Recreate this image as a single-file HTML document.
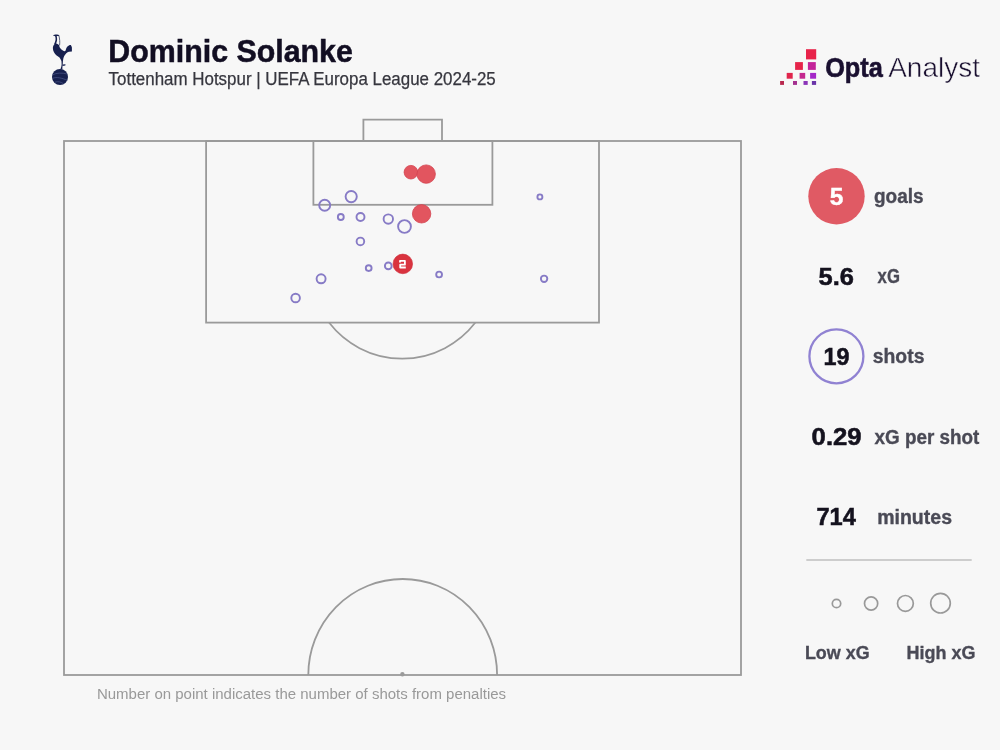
<!DOCTYPE html>
<html><head><meta charset="utf-8"><title>Dominic Solanke shot map</title>
<style>
html,body{margin:0;padding:0;background:#f7f7f7;}
body{width:1000px;height:750px;overflow:hidden;position:relative;font-family:"Liberation Sans",sans-serif;}
svg{position:absolute;left:0;top:0;will-change:transform;}
</style></head>
<body>
<svg width="1000" height="750" viewBox="0 0 1000 750" font-family="Liberation Sans, sans-serif">
  <!-- Spurs crest -->
  <g id="crest" fill="#17204f">
    <path d="M52.9 35.5 C53.8 34.8 55.5 34.5 57 34.6 C58 34.7 58.8 34.9 59.2 35.3 L58.8 36.2 C58 35.9 57.2 35.9 56.7 36.3 C57 37.5 57.2 38.8 57.1 40 C56.9 41.6 56.4 42.8 55.8 44 L54 44.2 C54.8 42.8 55.3 41.4 55.5 40 C55.7 38.6 55.5 37.2 55.1 36.3 C54.4 35.9 53.6 35.8 52.9 35.5 Z"/>
    <path d="M55.6 43.2 C54.2 43.8 53 45.5 52.9 47.6 C52.8 49.5 53.4 52 55.1 53.9 C56 54.9 57.2 55.8 58.1 56.6 C59.2 57.3 60 58 60.3 58.8 C61 59.8 61.4 60.6 61.5 61.6 L61.6 64.4 C61.5 65.6 61.3 66.6 61 67.4 L60.3 69.5 L62.3 69.5 C62.4 68.6 62.4 68 62.4 67.4 L62.7 64.4 L62.9 61.8 C63 60.5 63.1 59.8 63.3 58.8 C63.7 57.4 64 56.6 64.4 55.8 C65 54.8 65.6 53.8 66.3 53.2 C67.2 52.5 68 52 68.9 51.7 L71.9 51.4 L71.9 47.6 C71.7 46.6 71.4 45.7 70.8 45 C70 45 69.4 45.1 68.9 45.4 C68 45.9 67.4 46.3 67 46.9 C66.4 47.8 66.1 48.6 65.9 49.5 C65.6 50.4 65.3 51.2 64.8 51.3 C64 51.3 63.5 51 62.9 50.6 C61.8 49.9 61 49.2 60.3 48.3 C59.5 47.3 59.3 46.2 59.2 45.3 C58 44.2 56.8 43.3 55.6 43.2 Z"/>
    <path d="M62.6 64.6 L65.5 64.3 L65.3 65.4 L62.5 66 Z"/>
    <circle cx="60" cy="77" r="8"/>
  </g>
  <path d="M58.9 35.4 C59.3 37 59.6 39 59.7 40.5 C59.8 42 59.8 43.5 59.6 45.3" fill="none" stroke="#454c6c" stroke-width="0.85"/>
  <g stroke="#5f6c9e" stroke-width="0.7" fill="none" opacity="0.75">
    <path d="M52.6 74.8 C56.5 72.8 62 72.6 67.2 74"/>
    <path d="M53 78.2 C56.5 76.8 61.5 77.8 67.6 80.4"/>
    <path d="M55 82.2 C58 81.2 61 81.8 63.6 83.8"/>
  </g>

  <!-- Title -->
  <text x="108.3" y="61.9" font-size="31" font-weight="bold" fill="#120e22" stroke="#120e22" stroke-width="0.5" textLength="244.6" lengthAdjust="spacingAndGlyphs">Dominic Solanke</text>
  <text x="108.6" y="84.5" font-size="17.5" fill="#36363e" stroke="#36363e" stroke-width="0.25" textLength="387.2" lengthAdjust="spacingAndGlyphs">Tottenham Hotspur | UEFA Europa League 2024-25</text>

  <!-- Opta logo -->
  <g id="opta">
    <rect x="806" y="49.2" width="10.2" height="10.2" fill="#e8234a"/>
    <rect x="795.1" y="62.1" width="7.8" height="7.8" fill="#e6244a"/>
    <rect x="807.9" y="62.1" width="7.9" height="7.8" fill="#c4249a"/>
    <rect x="786.7" y="72.9" width="6" height="5.8" fill="#e0244c"/>
    <rect x="799.6" y="72.9" width="5.6" height="5.8" fill="#c4288e"/>
    <rect x="810.1" y="72.9" width="6" height="5.8" fill="#a428c8"/>
    <rect x="780.1" y="81" width="3.9" height="3.9" fill="#b8284e"/>
    <rect x="793" y="81" width="4" height="3.9" fill="#a43090"/>
    <rect x="803.5" y="81" width="4.2" height="3.9" fill="#8a34b8"/>
    <rect x="811.9" y="81" width="4.2" height="3.9" fill="#6a34a8"/>
  </g>
  <text x="825.2" y="77.3" font-size="27.5" font-weight="bold" fill="#1a1030" stroke="#1a1030" stroke-width="0.6" textLength="57.6" lengthAdjust="spacingAndGlyphs">Opta</text>
  <text x="888.2" y="77.3" font-size="27.5" fill="#1a1030" stroke="#f7f7f7" stroke-width="0.5" textLength="91.8" lengthAdjust="spacingAndGlyphs">Analyst</text>

  <!-- Pitch -->
  <g fill="none" stroke="#9a9a9a" stroke-width="1.8">
    <rect x="64" y="141" width="677" height="534"/>
    <rect x="206.1" y="141" width="392.9" height="181.6"/>
    <rect x="313.4" y="141" width="179" height="63.8"/>
    <path d="M363.4 141 V119.6 H442 V141"/>
    <path d="M329 322.6 A93.2 94.8 0 0 0 475.4 322.6" stroke-width="1.7"/>
    <path d="M308.3 675 A94.4 96 0 0 1 497.1 675"/>
  </g>
  <circle cx="402.4" cy="674.3" r="2.2" fill="#9a9a9a"/>

  <!-- Shots (non-goals) -->
  <g fill="none" stroke="#877bc6" stroke-width="1.9">
    <circle cx="351.2" cy="196.6" r="5.60"/>
    <circle cx="324.7" cy="205.2" r="5.50"/>
    <circle cx="340.8" cy="217" r="2.95"/>
    <circle cx="360.5" cy="217" r="4.00"/>
    <circle cx="388.3" cy="219.1" r="4.70"/>
    <circle cx="404.5" cy="226.5" r="6.40"/>
    <circle cx="360.4" cy="241.4" r="3.80"/>
    <circle cx="368.7" cy="268.1" r="2.90"/>
    <circle cx="388.3" cy="265.9" r="3.40"/>
    <circle cx="439.1" cy="274.5" r="2.90"/>
    <circle cx="321.1" cy="278.8" r="4.50"/>
    <circle cx="295.6" cy="298" r="4.30"/>
    <circle cx="539.9" cy="196.9" r="2.50"/>
    <circle cx="544.1" cy="278.8" r="3.20"/>
  </g>
  <!-- Goals -->
  <g fill="#e2555f" stroke="#d3434f" stroke-width="0.8">
    <circle cx="410.9" cy="172.2" r="6.8"/>
    <circle cx="426.2" cy="174.1" r="9.2"/>
    <circle cx="421.6" cy="213.8" r="9.2"/>
  </g>
  <circle cx="402.8" cy="263.9" r="9.8" fill="#d9333f" stroke="#cf2f3c" stroke-width="0.6"/>
  <path d="M400 262.6 V260.8 H404.9 V264.7 H400.2 V267.5 H405.8" fill="none" stroke="#fff" stroke-width="1.8" stroke-linejoin="round"/>

  <!-- Stats panel -->
  <circle cx="836.5" cy="196.2" r="28.2" fill="#e05a64"/>
  <g font-weight="bold" fill="#14121e" stroke="#14121e" stroke-width="0.55" font-size="24.5">
    <text x="836.6" y="204.7" fill="#fff" stroke="#fff" stroke-width="0.4" text-anchor="middle">5</text>
    <text x="818.6" y="284.6" textLength="35.4" lengthAdjust="spacingAndGlyphs">5.6</text>
    <text x="823.4" y="364.7" textLength="26" lengthAdjust="spacingAndGlyphs">19</text>
    <text x="811.6" y="445" textLength="50" lengthAdjust="spacingAndGlyphs">0.29</text>
    <text x="816.4" y="525" textLength="39.4" lengthAdjust="spacingAndGlyphs">714</text>
  </g>
  <circle cx="836.4" cy="356.3" r="27" fill="none" stroke="#9082d2" stroke-width="2.3"/>
  <g font-weight="bold" fill="#4a4a56" stroke="#4a4a56" stroke-width="0.35" font-size="20">
    <text x="874" y="202.7" textLength="49.6" lengthAdjust="spacingAndGlyphs">goals</text>
    <text x="877.6" y="283" textLength="22.3" lengthAdjust="spacingAndGlyphs">xG</text>
    <text x="872.8" y="363" textLength="51.6" lengthAdjust="spacingAndGlyphs">shots</text>
    <text x="874.6" y="443.8" textLength="104.8" lengthAdjust="spacingAndGlyphs">xG per shot</text>
    <text x="877.2" y="524" textLength="74.8" lengthAdjust="spacingAndGlyphs">minutes</text>
  </g>

  <line x1="806.3" y1="560.1" x2="971.7" y2="560.1" stroke="#cdcdcd" stroke-width="2"/>

  <g fill="none" stroke="#999" stroke-width="1.7">
    <circle cx="836.5" cy="603.5" r="4.2"/>
    <circle cx="871.1" cy="603.5" r="6.6"/>
    <circle cx="905.4" cy="603.4" r="7.9"/>
    <circle cx="940.5" cy="603.2" r="9.8"/>
  </g>
  <text x="804.9" y="659.1" font-size="19" font-weight="bold" fill="#4a4a56" stroke="#4a4a56" stroke-width="0.35" textLength="64.7" lengthAdjust="spacingAndGlyphs">Low xG</text>
  <text x="906.6" y="659.1" font-size="19" font-weight="bold" fill="#4a4a56" stroke="#4a4a56" stroke-width="0.35" textLength="68.9" lengthAdjust="spacingAndGlyphs">High xG</text>

  <text x="96.9" y="698.8" font-size="14" fill="#999" textLength="409.2" lengthAdjust="spacingAndGlyphs">Number on point indicates the number of shots from penalties</text>
</svg>
</body></html>
